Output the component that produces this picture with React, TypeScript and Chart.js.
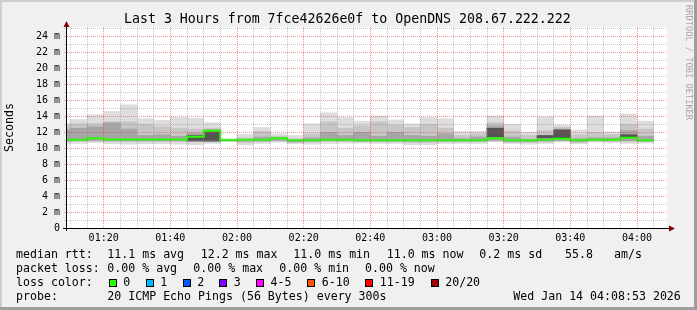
import React, { useEffect, useRef } from "react";
import { Chart, registerables } from "chart.js";

Chart.register(...registerables);

// ---------- data (milliseconds) ----------
const binStarts = [
  "01:05", "01:10", "01:15", "01:20", "01:25", "01:30", "01:35", "01:40", "01:45",
  "01:50", "01:55", "02:00", "02:05", "02:10", "02:15", "02:20", "02:25", "02:30",
  "02:35", "02:40", "02:45", "02:50", "02:55", "03:00", "03:05", "03:10", "03:15",
  "03:20", "03:25", "03:30", "03:35", "03:40", "03:45", "03:50", "03:55", "04:00",
];
const smokeMax = [13.1, 13.6, 14.2, 14.6, 15.45, 13.7, 13.5, 13.85, 13.75, 13.2, 11.2, 11.75, 12.6, 11.8, 11.6, 13.05, 14.45, 13.85, 13.4, 14.05, 13.55, 13.05, 13.85, 13.7, 12.1, 12.1, 14.05, 13.0, 12.0, 13.9, 12.9, 12.3, 14.05, 12.05, 14.3, 13.4];
const midHi = [12.9, 13.05, 13.1, 13.3, 13.3, 13.0, 12.7, 12.5, 12.4, 12.5, 11.1, 11.3, 12.1, 11.5, 11.2, 11.8, 13.3, 12.5, 12.8, 13.3, 12.9, 12.6, 13.0, 12.5, 11.6, 11.8, 13.2, 12.2, 11.6, 12.2, 12.6, 11.7, 12.0, 11.7, 13.0, 12.4];
const innerHi = [12.3, 12.5, 12.7, 13.2, 12.4, 11.6, 11.7, 11.5, 11.9, 12.3, 11.05, 11.1, 11.4, 11.35, 11.0, 11.3, 12.0, 11.6, 12.0, 11.5, 12.0, 11.6, 11.5, 11.8, 11.2, 11.4, 12.8, 11.4, 11.1, 11.5, 12.4, 11.2, 11.3, 11.3, 12.2, 11.5];
const medianRtt = [11.05, 11.05, 11.25, 11.1, 11.1, 11.1, 11.1, 11.1, 11.45, 12.2, 11.0, 11.05, 11.05, 11.25, 11.0, 11.0, 11.05, 11.05, 11.0, 11.0, 11.0, 11.0, 11.0, 11.0, 11.0, 11.0, 11.25, 11.0, 11.0, 11.05, 11.2, 11.0, 11.05, 11.05, 11.3, 11.0];
const innerLo = [10.9, 10.95, 11.0, 10.95, 10.95, 11.0, 10.95, 10.95, 10.95, 10.85, 10.95, 10.9, 10.9, 11.0, 10.8, 10.9, 10.95, 10.95, 10.9, 10.9, 10.9, 10.9, 10.9, 10.9, 10.9, 10.9, 11.0, 10.85, 10.85, 10.9, 11.0, 10.85, 10.95, 10.95, 10.95, 10.9];
const midLo = [10.8, 10.85, 10.9, 10.85, 10.8, 10.8, 10.8, 10.8, 10.8, 10.8, 10.9, 10.7, 10.8, 10.9, 10.7, 10.75, 10.85, 10.85, 10.8, 10.8, 10.8, 10.7, 10.7, 10.8, 10.8, 10.8, 10.9, 10.7, 10.7, 10.8, 10.9, 10.7, 10.9, 10.85, 10.85, 10.8];
const smokeMin = [10.5, 10.6, 10.7, 10.55, 10.5, 10.55, 10.55, 10.5, 10.45, 10.6, 10.85, 10.4, 10.6, 10.75, 10.55, 10.5, 10.6, 10.65, 10.65, 10.6, 10.6, 10.45, 10.45, 10.6, 10.6, 10.6, 10.8, 10.6, 10.5, 10.6, 10.8, 10.55, 10.75, 10.7, 10.6, 10.65];
const coreLo: (number | null)[] = [null, null, null, null, null, null, null, null, 10.9, 10.9, null, null, null, null, null, null, null, null, null, null, null, null, null, null, null, null, 11.4, null, null, 11.3, 11.3, null, null, null, 11.3, null];
const coreHi: (number | null)[] = [null, null, null, null, null, null, null, null, 11.6, 12.1, null, null, null, null, null, null, null, null, null, null, null, null, null, null, null, null, 12.5, null, null, 11.6, 12.3, null, null, null, 11.7, null];

const xMajorLabels = ["01:20", "01:40", "02:00", "02:20", "02:40", "03:00", "03:20", "03:40", "04:00"];
const yLabelValues = [0, 2, 4, 6, 8, 10, 12, 14, 16, 18, 20, 22, 24];

const titleText = "Last 3 Hours from 7fce42626e0f to OpenDNS 208.67.222.222";
const lossColors = [
  { label: "0", color: "#26ff00" },
  { label: "1", color: "#00b8ff" },
  { label: "2", color: "#0059ff" },
  { label: "3", color: "#7e00ff" },
  { label: "4-5", color: "#ff00ff" },
  { label: "6-10", color: "#ff5500" },
  { label: "11-19", color: "#ff0000" },
  { label: "20/20", color: "#a10000" },
];
const lossBoxX = [108.7, 145.7, 182.7, 219.3, 256, 307.3, 365.3, 430.7];

const X_MIN = 69; // 01:09
const X_MAX = 249; // 04:09
const BIN = 5;
const MONO = '"DejaVu Sans Mono", monospace';

const toMin = (s: string) => {
  const [h, m] = s.split(":").map(Number);
  return h * 60 + m;
};
const starts = binStarts.map(toMin);
const centers = starts.map((s) => s + BIN / 2);
const majorX = xMajorLabels.map(toMin);

const range = (lo: (number | null)[], hi: (number | null)[]) =>
  centers
    .map((c, i) => (lo[i] == null || hi[i] == null ? null : { x: c, y: [lo[i], hi[i]] }))
    .filter((p) => p !== null);

const medianPoints: { x: number; y: number }[] = [];
starts.forEach((s, i) => {
  medianPoints.push({ x: s, y: medianRtt[i] });
  medianPoints.push({ x: s + BIN, y: medianRtt[i] });
});

const xGridTicks: number[] = [];
for (let t = 70; t <= 245; t += 5) xGridTicks.push(t);
const yGridTicks: number[] = [];
for (let v = 0; v <= 25; v += 1) yGridTicks.push(v);

const MAJOR = "rgba(232, 60, 60, 0.55)";
const MINOR = "rgba(140, 140, 140, 0.5)";

const framePlugin = {
  id: "rrdFrame",
  beforeDraw(chart: any) {
    const { ctx, width, height, chartArea } = chart;
    ctx.save();
    ctx.fillStyle = "#f0f0f0";
    ctx.fillRect(0, 0, width, height);
    ctx.fillStyle = "#cfcfcf";
    ctx.fillRect(0, 0, width, 2);
    ctx.fillRect(0, 0, 2, height);
    ctx.fillStyle = "#9e9e9e";
    ctx.fillRect(0, height - 3, width, 3);
    ctx.fillRect(width - 3, 0, 3, height);
    ctx.fillStyle = "#ffffff";
    ctx.fillRect(chartArea.left, chartArea.top, chartArea.right - chartArea.left, chartArea.bottom - chartArea.top);
    ctx.restore();
  },
  afterDraw(chart: any) {
    const { ctx, chartArea } = chart;
    const ax = chartArea.left - 0.5;
    const ay = chartArea.bottom + 0.5;
    ctx.save();
    ctx.strokeStyle = "#000000";
    ctx.lineWidth = 1;
    ctx.beginPath();
    ctx.moveTo(chartArea.left - 4, ay);
    ctx.lineTo(chartArea.right + 2, ay);
    ctx.moveTo(ax, chartArea.bottom + 3);
    ctx.lineTo(ax, chartArea.top - 1);
    ctx.stroke();
    ctx.fillStyle = "#7f0000";
    ctx.beginPath();
    ctx.moveTo(ax, chartArea.top - 6);
    ctx.lineTo(ax - 3, chartArea.top);
    ctx.lineTo(ax + 3, chartArea.top);
    ctx.closePath();
    ctx.fill();
    ctx.beginPath();
    ctx.moveTo(chartArea.right + 8, ay);
    ctx.lineTo(chartArea.right + 2, ay - 3);
    ctx.lineTo(chartArea.right + 2, ay + 3);
    ctx.closePath();
    ctx.fill();
    ctx.restore();
  },
};

const barCommon = {
  type: "bar" as const,
  grouped: false,
  barPercentage: 1,
  categoryPercentage: 1,
  borderWidth: 0,
  clip: 0,
};

const textStyle = (left: number, top: number): React.CSSProperties => ({
  position: "absolute",
  left,
  top,
  font: `11.6px ${MONO}`,
  lineHeight: "14px",
  whiteSpace: "pre",
  color: "#000",
});

export default function App() {
  const canvasRef = useRef<HTMLCanvasElement | null>(null);

  useEffect(() => {
    if (!canvasRef.current) return;
    const chart = new Chart(canvasRef.current, {
      type: "bar",
      data: {
        datasets: [
          {
            type: "line",
            label: "median rtt",
            data: medianPoints,
            borderColor: "#26ff00",
            borderWidth: 2,
            pointRadius: 0,
            fill: false,
            tension: 0,
            clip: 0,
            order: 0,
          } as any,
          { ...barCommon, label: "core", data: range(coreLo, coreHi), backgroundColor: "#555555", order: 1 } as any,
          { ...barCommon, label: "inner", data: range(innerLo, innerHi), backgroundColor: "#a6a6a6", order: 2 } as any,
          { ...barCommon, label: "mid", data: range(midLo, midHi), backgroundColor: "#c6c6c6", order: 3 } as any,
          { ...barCommon, label: "outer", data: range(smokeMin, smokeMax), backgroundColor: "#dddddd", order: 4 } as any,
        ],
      },
      options: {
        responsive: false,
        animation: false,
        devicePixelRatio: 1,
        layout: { padding: { left: 0, right: 30, top: 27, bottom: 0 } },
        plugins: {
          legend: { display: false },
          tooltip: { enabled: false },
          title: { display: false },
        },
        scales: {
          x: {
            type: "linear",
            min: X_MIN,
            max: X_MAX,
            offset: false,
            afterBuildTicks: (s: any) => {
              s.ticks = xGridTicks.map((v) => ({ value: v }));
            },
            afterFit: (s: any) => {
              s.height = 82;
            },
            ticks: {
              autoSkip: false,
              maxRotation: 0,
              padding: 4,
              color: "#000",
              font: { family: MONO, size: 10 },
              callback: (v: any) => {
                const i = majorX.indexOf(Number(v));
                return i >= 0 ? xMajorLabels[i] : "";
              },
            },
            grid: {
              offset: false,
              drawTicks: false,
              z: 1,
              color: (c: any) => (majorX.includes(c.tick?.value) ? MAJOR : MINOR),
            },
            border: { display: false, dash: [1, 1] },
          },
          y: {
            type: "linear",
            min: 0,
            max: 25.2,
            afterBuildTicks: (s: any) => {
              s.ticks = yGridTicks.map((v) => ({ value: v }));
            },
            afterFit: (s: any) => {
              s.width = 67;
            },
            ticks: {
              autoSkip: false,
              padding: 4,
              color: "#000",
              font: { family: MONO, size: 10 },
              callback: (v: any) => {
                const n = Number(v);
                if (!yLabelValues.includes(n)) return "";
                return n === 0 ? "0" : `${n} m`;
              },
            },
            grid: {
              drawTicks: true,
              tickLength: 3,
              z: 1,
              color: (c: any) => (yLabelValues.includes(c.tick?.value) ? MAJOR : MINOR),
              tickColor: (c: any) => (yLabelValues.includes(c.tick?.value) ? MAJOR : MINOR),
              tickBorderDash: [1, 1],
            },
            border: { display: false, dash: [1, 1] },
            title: {
              display: true,
              text: "Seconds",
              color: "#000",
              font: { family: MONO, size: 11.6, lineHeight: 1.2 },
              padding: { top: 3, bottom: 0 },
            },
          },
        },
      } as any,
      plugins: [framePlugin],
    });
    return () => chart.destroy();
  }, []);

  return (
    <div style={{ position: "fixed", left: 0, top: 0, width: 697, height: 310, overflow: "hidden" }}>
      <canvas ref={canvasRef} width={697} height={310} style={{ display: "block", width: 697, height: 310 }} />
      {/* title */}
      <span
        style={{
          position: "absolute",
          left: 124,
          top: 11,
          font: `13.25px ${MONO}`,
          lineHeight: "16px",
          whiteSpace: "pre",
          color: "#000",
        }}
      >
        {titleText}
      </span>
      {/* line 1 */}
      <span style={textStyle(16, 247.3)}>median rtt:</span>
      <span style={textStyle(107.3, 247.3)}>11.1 ms avg</span>
      <span style={textStyle(200.7, 247.3)}>12.2 ms max</span>
      <span style={textStyle(293.3, 247.3)}>11.0 ms min</span>
      <span style={textStyle(386.7, 247.3)}>11.0 ms now</span>
      <span style={textStyle(479.3, 247.3)}>0.2 ms sd</span>
      <span style={textStyle(565, 247.3)}>55.8</span>
      <span style={textStyle(614, 247.3)}>am/s</span>
      {/* line 2 */}
      <span style={textStyle(16, 260.7)}>packet loss:</span>
      <span style={textStyle(107.3, 260.7)}>0.00 % avg</span>
      <span style={textStyle(193.3, 260.7)}>0.00 % max</span>
      <span style={textStyle(279.3, 260.7)}>0.00 % min</span>
      <span style={textStyle(365, 260.7)}>0.00 % now</span>
      {/* line 3 */}
      <span style={textStyle(16, 275.3)}>loss color:</span>
      {lossColors.map((lc, i) => (
        <React.Fragment key={lc.label}>
          <div
            style={{
              position: "absolute",
              left: lossBoxX[i],
              top: 279,
              width: 6,
              height: 6,
              border: "1px solid #000",
              background: lc.color,
            }}
          />
          <span style={textStyle(lossBoxX[i] + 14.5, 275.3)}>{lc.label}</span>
        </React.Fragment>
      ))}
      {/* line 4 */}
      <span style={textStyle(16, 288.7)}>probe:</span>
      <span style={textStyle(107.3, 288.7)}>20 ICMP Echo Pings (56 Bytes) every 300s</span>
      <span style={textStyle(513.3, 288.7)}>Wed Jan 14 04:08:53 2026</span>
      {/* side label */}
      <span
        style={{
          position: "absolute",
          left: 683.5,
          top: 5,
          writingMode: "vertical-rl",
          font: `8.7px ${MONO}`,
          lineHeight: "10px",
          whiteSpace: "pre",
          color: "#a8a8a8",
        }}
      >
        RRDTOOL / TOBI OETIKER
      </span>
    </div>
  );
}
